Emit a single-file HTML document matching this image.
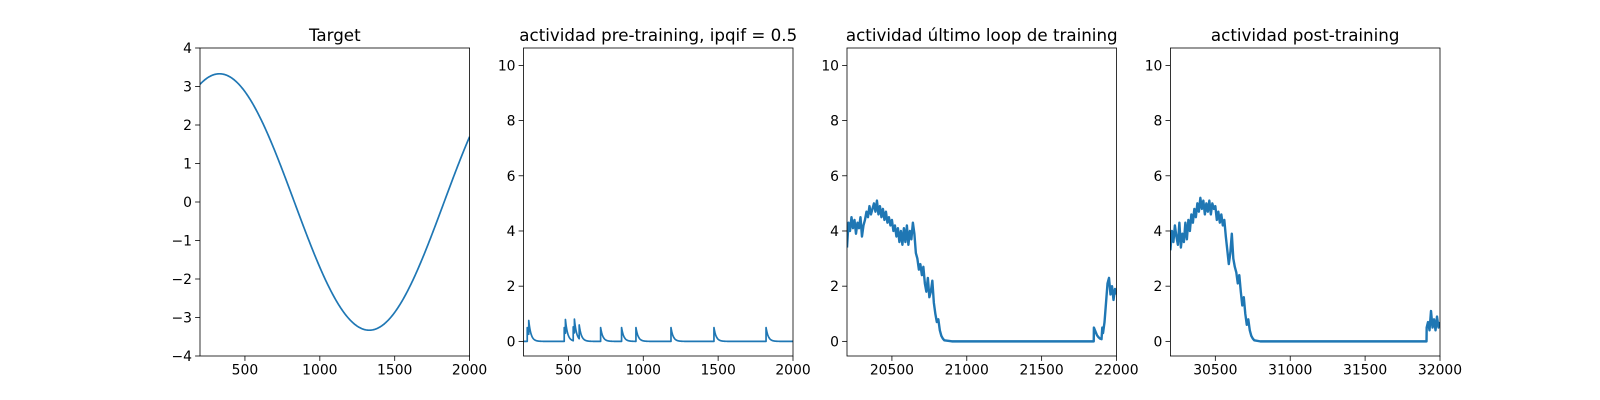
<!DOCTYPE html>
<html><head><meta charset="utf-8">
<style>
html,body{margin:0;padding:0;background:#fff;}
svg{display:block;font-family:"DejaVu Sans","Liberation Sans",sans-serif;}
</style></head>
<body>
<svg id="fig" width="1600" height="400" viewBox="0 0 1600 400" xmlns="http://www.w3.org/2000/svg"></svg>
<script>
// ---- data ----
const targetAmp = 3.33;
const targetPeakX = 330;
const targetPeriod = 2000;
const preSpikeTimes = [225, 235, 472, 480, 532, 540, 572, 715, 855, 951, 1185, 1472, 1820];
const preSpikeJump = 0.5;
const preSpikeTau = 15;
const lastLoopX = [20200,20210,20220,20230,20240,20250,20260,20270,20280,20290,
  20300,20310,20320,20330,20340,20350,20360,20370,20380,20390,
  20400,20410,20420,20430,20440,20450,20460,20470,20480,20490,
  20500,20510,20520,20530,20540,20550,20560,20570,20580,20590,
  20600,20610,20620,20630,20640,20650,20660,20670,20680,20690,
  20700,20710,20720,20730,20740,20750,20760,20770,20780,20790,
  20800,20810,20820,20830,20840,20850,20900,21848,21849,21860,21870,21880,21890,21900,
  21905,21910,21920,21930,21940,21950,21960,21970,21980,21990,22000];
const lastLoopY = [3.4,4.3,4.0,4.5,4.1,4.4,3.9,4.3,4.1,4.5,
  3.8,4.2,4.4,4.7,4.5,4.9,4.6,4.8,5.0,4.7,
  5.1,4.6,4.9,4.5,4.8,4.4,4.7,4.3,4.5,4.2,
  4.4,4.0,4.2,3.8,4.1,3.6,4.0,3.5,4.1,3.6,
  4.2,3.5,4.0,3.7,4.3,3.9,3.2,3.0,2.6,2.8,
  2.4,2.7,2.1,1.8,2.3,1.6,1.8,2.2,1.4,1.0,
  0.7,0.8,0.4,0.2,0.1,0.04,0,0,0.5,0.35,0.22,0.15,0.1,0.08,
  0.5,0.3,0.7,1.4,2.1,2.3,1.7,2.0,1.5,1.9,1.7];
const postX = [30200,30210,30220,30230,30240,30250,30260,30270,30280,30290,
  30300,30310,30320,30330,30340,30350,30360,30370,30380,30390,
  30400,30410,30420,30430,30440,30450,30460,30470,30480,30490,
  30500,30510,30520,30530,30540,30550,30560,30570,30580,30590,
  30600,30610,30620,30630,30640,30650,30660,30670,30680,30690,
  30700,30710,30720,30730,30740,30750,30760,30800,31910,31911,
  31920,31930,31940,31950,31960,31970,31980,31990,32000];
const postY = [3.3,4.0,3.6,4.2,3.8,3.5,4.3,3.4,3.9,3.6,
  4.3,3.7,4.4,4.0,4.6,4.3,4.8,4.5,5.0,4.7,
  5.2,4.8,5.1,4.6,5.0,4.7,5.1,4.6,5.0,4.8,
  4.9,4.4,4.7,4.3,4.6,4.2,4.4,3.8,3.3,2.8,
  3.2,3.9,3.0,2.7,2.5,2.1,2.4,1.8,1.3,1.6,
  1.0,0.6,0.8,0.4,0.2,0.1,0.04,0,0,0.5,
  0.7,0.4,1.1,0.5,0.8,0.4,0.9,0.5,0.7];
const ticks1X = [500,1000,1500,2000];
const ticks1Y = [-4,-3,-2,-1,0,1,2,3,4];
const ticksActY = [0,2,4,6,8,10];
const ticks3X = [20500,21000,21500,22000];
const ticks4X = [30500,31000,31500,32000];
const titles = ["Target","actividad pre-training, ipqif = 0.5","actividad último loop de training","actividad post-training"];

// ---- layout ----
const NS = "http://www.w3.org/2000/svg";
const svg = document.getElementById('fig');
const axesBox = [[200,469.6],[523.5,793],[847,1116.5],[1170.4,1440]];
const TOP = 48, BOT = 356;
const C = "#1f77b4";
function mk(tag, attrs, parent){const e=document.createElementNS(NS,tag);for(const k in attrs)e.setAttribute(k,attrs[k]);(parent||svg).appendChild(e);return e;}

function drawAxes(i, xmin, xmax, ymin, ymax, xt, yt, xs, ys, sw){
  const [L,R] = axesBox[i];
  const sx = v => L + (v - xmin) / (xmax - xmin) * (R - L);
  const sy = v => BOT - (v - ymin) / (ymax - ymin) * (BOT - TOP);
  const g = mk('g', {});
  
  
  const cp = mk('clipPath', {id:'cp'+i}, g);
  mk('rect', {x:L, y:TOP, width:R-L, height:BOT-TOP}, cp);
  let d = '';
  for (let k=0;k<xs.length;k++) d += (k?'L':'M') + sx(xs[k]).toFixed(2) + ',' + sy(ys[k]).toFixed(2);
  const p = mk('path', {d:d, fill:'none', stroke:C, 'stroke-width':sw, 'stroke-linejoin':'round', 'clip-path':'url(#cp'+i+')'}, g);
  
  
  const fr = mk('rect', {x:L, y:TOP, width:R-L, height:BOT-TOP, fill:'none', stroke:'#000', 'stroke-width':0.8}, g);
  
  
  xt.forEach(v=>{
    const x = sx(v);
    mk('line', {x1:x, x2:x, y1:BOT, y2:BOT+4.9, stroke:'#000', 'stroke-width':0.8}, g);
    const t = mk('text', {x:x, y:BOT+18.5, 'text-anchor':'middle', 'font-size':13.9, fill:'#000'}, g);
    t.textContent = v;
    
    
  });
  yt.forEach(v=>{
    const y = sy(v);
    mk('line', {x1:L-4.9, x2:L, y1:y, y2:y, stroke:'#000', 'stroke-width':0.8}, g);
    const t = mk('text', {x:L-8, y:y+5, 'text-anchor':'end', 'font-size':13.9, fill:'#000'}, g);
    t.textContent = v < 0 ? '\u2212' + Math.abs(v) : v;
    
    
  });
  const tt = mk('text', {x:(L+R)/2, y:TOP-7, 'text-anchor':'middle', 'font-size':16.7, fill:'#000'}, g);
  tt.textContent = titles[i];
  
  
}

// target sine
const tX = [], tY = [];
for (let x=200; x<=2000; x+=5){ tX.push(x); tY.push(targetAmp*Math.cos(2*Math.PI*(x-targetPeakX)/targetPeriod)); }
drawAxes(0, 200, 2000, -4, 4, ticks1X, ticks1Y, tX, tY, 1.7);

// pre-training spikes
const pX = [], pY = [];
let val = 0, si = 0;
for (let x=200; x<=2000; x+=1){
  val *= Math.exp(-1/preSpikeTau);
  let jumped = false;
  while (si < preSpikeTimes.length && preSpikeTimes[si] <= x){
    if(!jumped){pX.push(x); pY.push(val);}
    val += preSpikeJump; si++; jumped = true;
  }
  pX.push(x); pY.push(val);
}
const YMIN=-0.53, YMAX=10.63;
drawAxes(1, 200, 2000, YMIN, YMAX, ticks1X, ticksActY, pX, pY, 1.7);
drawAxes(2, 20200, 22000, YMIN, YMAX, ticks3X, ticksActY, lastLoopX, lastLoopY, 2.4);
drawAxes(3, 30200, 32000, YMIN, YMAX, ticks4X, ticksActY, postX, postY, 2.4);
</script>
</body></html>
